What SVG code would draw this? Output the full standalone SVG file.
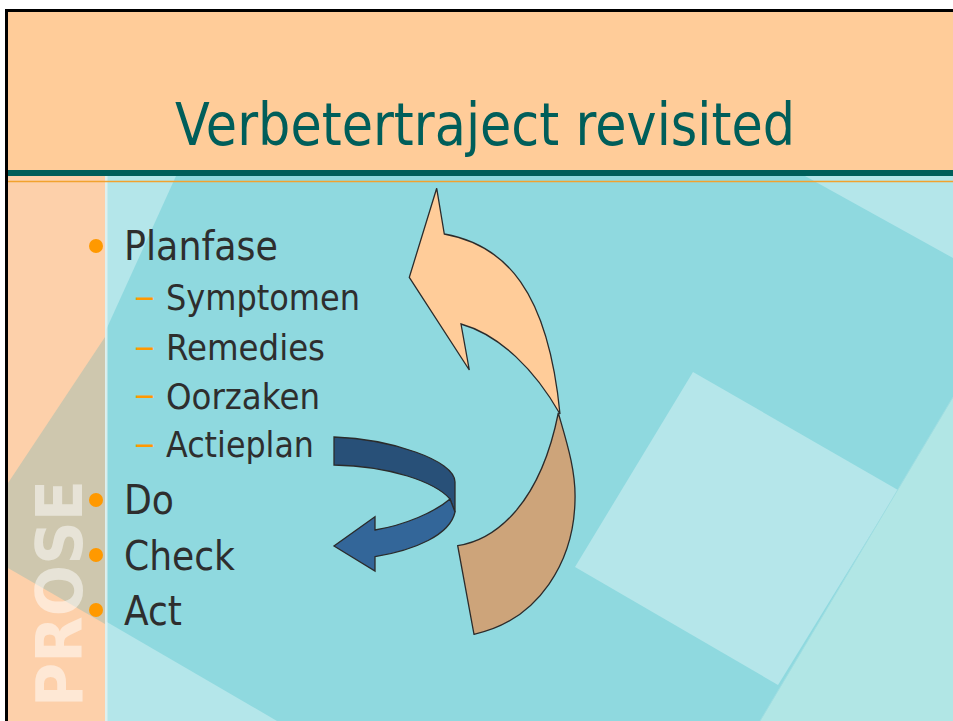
<svg xmlns="http://www.w3.org/2000/svg" width="953" height="721" viewBox="0 0 953 721">
<style>
.t{font-family:"DejaVu Sans","Liberation Sans",sans-serif;fill:#2e2e2e}
.l1{font-size:40px}
.l2{font-size:35px}
.dash{font-family:"DejaVu Sans","Liberation Sans",sans-serif;font-size:35px;fill:#ff9900}
.bul{fill:#ff9900}
.ol{stroke:#2b2b2b;stroke-width:1.3;stroke-linejoin:miter}
</style>
<rect x="0" y="0" width="953" height="721" fill="#ffffff"/>
<g id="frame">
<rect x="5" y="9" width="960" height="720" fill="#000000"/>
<rect x="8" y="12" width="945" height="709" fill="#ffcc99"/>
</g>
<g id="background">
<rect x="8" y="176" width="945" height="545" fill="#b4e6ea"/>
<polygon points="176,176 805,176 953,258 953,721 277,721 106,621.5 106,330" fill="#8fd9df"/>
<polygon points="693,372 898,490 778,685 575,567" fill="#b5e6ea"/>
<polygon points="953,397 760,721 953,721" fill="#b1e6e5"/>
<line x1="953" y1="397" x2="760" y2="721" stroke="#9fdde1" stroke-width="1"/>
<rect x="8" y="176" width="97" height="545" fill="#fdd0aa"/>
<polygon points="105,337 8,483 8,568 105,624" fill="#cec7ae"/>
<rect x="105" y="176" width="2.5" height="545" fill="#e8f3f0" opacity="0.8"/>
<text transform="translate(82,707) rotate(-90)" font-family="'DejaVu Sans','Liberation Sans',sans-serif" font-weight="bold" font-size="64" textLength="227" lengthAdjust="spacingAndGlyphs" fill="#ffffff" fill-opacity="0.5">PROSE</text>
</g>
<g id="header">
<rect x="8" y="170" width="945" height="6" fill="#005e5a"/>
<line x1="8" y1="181.5" x2="953" y2="181.5" stroke="#f2a22e" stroke-width="1.5"/>
<text x="175" y="145" font-family="'DejaVu Sans','Liberation Sans',sans-serif" font-size="58" fill="#005e5a" textLength="620" lengthAdjust="spacingAndGlyphs">Verbetertraject revisited</text>
</g>
<g id="item-planfase">
<circle class="bul" cx="96" cy="246" r="7"/>
<text class="t l1" x="124" y="259.5" textLength="154" lengthAdjust="spacingAndGlyphs">Planfase</text>
</g>
<g id="item-symptomen">
<text class="dash" x="134" y="309" textLength="21" lengthAdjust="spacingAndGlyphs">–</text>
<text class="t l2" x="166" y="310" textLength="194" lengthAdjust="spacingAndGlyphs">Symptomen</text>
</g>
<g id="item-remedies">
<text class="dash" x="134" y="359" textLength="21" lengthAdjust="spacingAndGlyphs">–</text>
<text class="t l2" x="166" y="360" textLength="159" lengthAdjust="spacingAndGlyphs">Remedies</text>
</g>
<g id="item-oorzaken">
<text class="dash" x="134" y="407" textLength="21" lengthAdjust="spacingAndGlyphs">–</text>
<text class="t l2" x="166" y="408.5" textLength="154" lengthAdjust="spacingAndGlyphs">Oorzaken</text>
</g>
<g id="item-actieplan">
<text class="dash" x="134" y="456" textLength="21" lengthAdjust="spacingAndGlyphs">–</text>
<text class="t l2" x="166" y="457" textLength="148" lengthAdjust="spacingAndGlyphs">Actieplan</text>
</g>
<g id="item-do">
<circle class="bul" cx="96" cy="500" r="7"/>
<text class="t l1" x="124" y="513.5" textLength="50" lengthAdjust="spacingAndGlyphs">Do</text>
</g>
<g id="item-check">
<circle class="bul" cx="96" cy="555" r="7"/>
<text class="t l1" x="124" y="570" textLength="111" lengthAdjust="spacingAndGlyphs">Check</text>
</g>
<g id="item-act">
<circle class="bul" cx="96" cy="610" r="7"/>
<text class="t l1" x="124" y="625" textLength="58" lengthAdjust="spacingAndGlyphs">Act</text>
</g>
<g id="connectors">
<g id="cycle-arrow">
<path class="ol" fill="#cda47a" d="M558.3,413 C566,440 576,470 575,500 C574,560 540,620 474,634.3 L457.7,545.7 C495,540 540,505 558.3,413 Z"/>
<path class="ol" fill="#ffcc99" d="M444.3,234 C505,245 548,290 560,414 C535,370 500,335 461,324 L469.3,370 L409.3,277.3 L436.7,188.3 Z"/>
</g>
<g id="do-arrow">
<path class="ol" fill="#285078" d="M334,437 C390,439 455,460 455,482 L455,512 L450,499 C435,482 390,466 334,465 Z"/>
<path class="ol" fill="#336699" d="M450,499 C435,512 405,525 375,530 L375,516.7 L334,546 L375,571 L375,556.7 C415,550 450,535 455,512 Z"/>
</g>
</g>
</svg>
